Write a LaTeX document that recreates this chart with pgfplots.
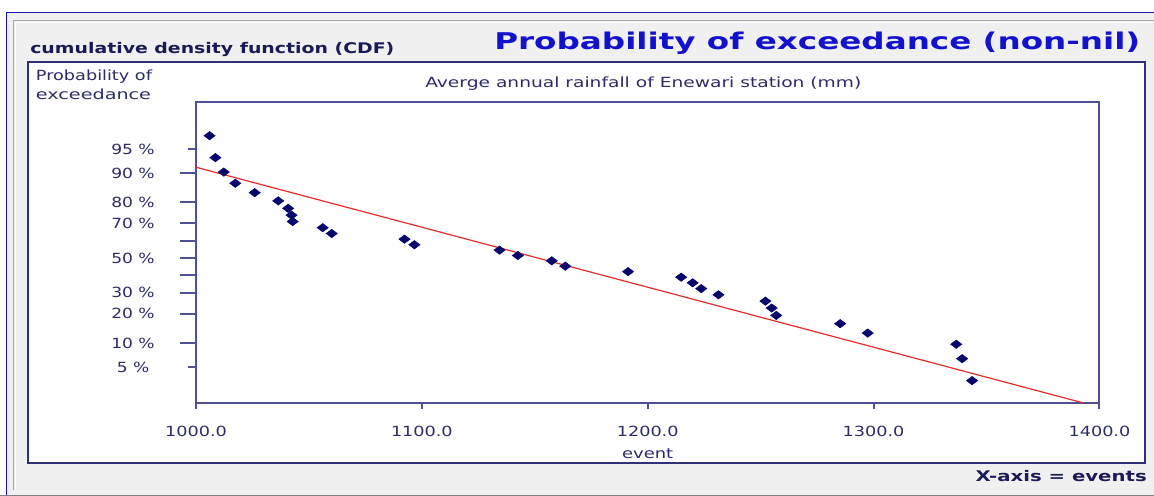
\documentclass[border=0pt]{standalone}
\usepackage{pgfplots}
\pgfplotsset{compat=1.18}
\usepackage{pgfplotstable}
\usepackage{graphicx}
\usepackage{fontspec}
\setmainfont{DejaVu Sans}

\definecolor{winbg}{RGB}{240,240,240}
\definecolor{winframe}{RGB}{24,24,176}
\definecolor{winshade}{RGB}{168,168,168}
\definecolor{titleblue}{RGB}{18,18,206}
\definecolor{inknavy}{RGB}{26,26,86}
\definecolor{textnavy}{RGB}{44,44,104}
\definecolor{axisnavy}{RGB}{80,80,150}
\definecolor{panelnavy}{RGB}{48,48,120}
\definecolor{marknavy}{RGB}{6,6,108}
\definecolor{fitred}{RGB}{232,44,44}

% Annual rainfall (mm), ranked, with the standard normal quantile of the
% Weibull plotting position i/(n+1), n = 30, of its probability of exceedance
\pgfplotstableread{
rain    zq
1006.0  1.849
1008.6  1.518
1012.3  1.300
1017.4  1.131
1026.0  0.989
1036.4  0.865
1040.8  0.753
1042.3  0.649
1042.8  0.553
1056.1  0.460
1060.1  0.372
1092.3  0.287
1096.7  0.203
1134.4  0.121
1142.5  0.040
1157.5 -0.040
1163.5 -0.121
1191.3 -0.203
1214.8 -0.287
1219.9 -0.372
1223.7 -0.460
1231.3 -0.553
1252.1 -0.649
1254.9 -0.753
1256.9 -0.865
1285.2 -0.989
1297.4 -1.131
1336.6 -1.300
1339.2 -1.518
1343.6 -1.849
}\rainfall

% fitted normal distribution (mean 1151.6, sd 110.4) as a straight line
\pgfplotstableread{
rain    zq
1000.0  1.373
1393.0 -2.187
}\normalfit

\newcommand{\reg}{\fontsize{10.5}{12}\selectfont}
\newcommand{\regbold}{\fontsize{11}{13}\selectfont\bfseries}

\begin{document}
\begin{tikzpicture}
\useasboundingbox (0,0) rectangle (865.5pt,-372pt);
\begin{scope}[x=0.75pt, y=-0.75pt]
  % window
  \fill[white] (0,0) rectangle (1154,496);
  \fill[winbg] (6,12.7) rectangle (1154,494.5);
  \fill[black!50] (0,494.5) rectangle (1154,496);
  \draw[winframe, line width=1.1pt] (6.5,494.5) -- (6.5,12.7) -- (1154,12.7);
  \draw[winshade, line width=0.8pt] (13.5,490) -- (13.5,20.7) -- (1154,20.7);
  \draw[white, line width=0.6pt] (15.5,490) -- (15.5,22.5) -- (1154,22.5);
  % chart panel
  \filldraw[fill=white, draw=panelnavy, line width=1.4pt] (28.3,61.7) rectangle (1145,463.3);
  % headings
  \node[anchor=base west, inner sep=0, text=inknavy, font=\regbold]
    at (30,53.5) {\resizebox{273pt}{\height}{cumulative density function (CDF)}};
  \node[anchor=base west, inner sep=0, text=titleblue, font=\fontsize{17.3}{20}\selectfont\bfseries]
    at (494,49.3) {\resizebox{484.5pt}{\height}{Probability of exceedance (non-nil)}};
  \node[anchor=base west, inner sep=0, text=textnavy, font=\reg]
    at (35.7,80) {\resizebox{87pt}{\height}{Probability of}};
  \node[anchor=base west, inner sep=0, text=textnavy, font=\reg]
    at (35.7,99) {\resizebox{86.3pt}{\height}{exceedance}};
  \node[anchor=base west, inner sep=0, text=textnavy, font=\reg]
    at (425,87.5) {\resizebox{327pt}{\height}{Averge annual rainfall of Enewari station (mm)}};
  \node[anchor=base east, inner sep=0, text=inknavy, font=\regbold]
    at (1147,481) {\resizebox{128.3pt}{\height}{X-axis = events}};
\end{scope}

\begin{axis}[
  at={(147pt,-302.25pt)}, anchor=south west,
  scale only axis, width=677.6pt, height=226.1pt,
  xmin=1000, xmax=1400, ymin=-2.187, ymax=2.365,
  axis line style={axisnavy, line width=1.5pt},
  tick style={axisnavy, line width=1.5pt},
  tick align=outside,
  tick pos=left,
  major tick length=12pt,
  minor tick num=0,
  /pgf/number format/assume math mode=true,
  % x axis: rainfall
  xtick=\empty,
  extra x ticks={1000,1100,1200,1300,1400},
  extra x tick style={major tick length=4.5pt,
    xticklabel style={font=\reg, text=textnavy, yshift=-9.3pt, xscale=1.26,
      /pgf/number format/.cd, fixed, fixed zerofill, precision=1, 1000 sep={}}},
  % y axis: probability of exceedance on a normal probability scale
  ytick={-1.2816,-0.8416,-0.5244,-0.2533,0,0.2533,0.5244,0.8416,1.2816},
  yticklabels={10 \%,20 \%,30 \%,,50 \%,,70 \%,80 \%,90 \%},
  yticklabel style={font=\reg, text=textnavy, anchor=center, xshift=-35.25pt, xscale=1.22},
  extra y ticks={-1.6449,1.6449},
  extra y tick labels={5 \%,95 \%},
  extra y tick style={major tick length=6pt, yticklabel style={xshift=-4.9pt}},
  xlabel={\resizebox{38.3pt}{\height}{event}},
  xlabel style={font=\reg, text=textnavy, at={(axis description cs:0.5,0)}, anchor=base, yshift=-41.25pt},
]
\addplot[fitred, line width=0.9pt] table[x=rain, y=zq] {\normalfit};
\addplot[only marks, mark=diamond*, mark size=4.2pt,
  mark options={rotate=90, fill=marknavy, draw=marknavy, line width=0.4pt}]
  table[x=rain, y=zq] {\rainfall};
\end{axis}
\end{tikzpicture}
\end{document}
